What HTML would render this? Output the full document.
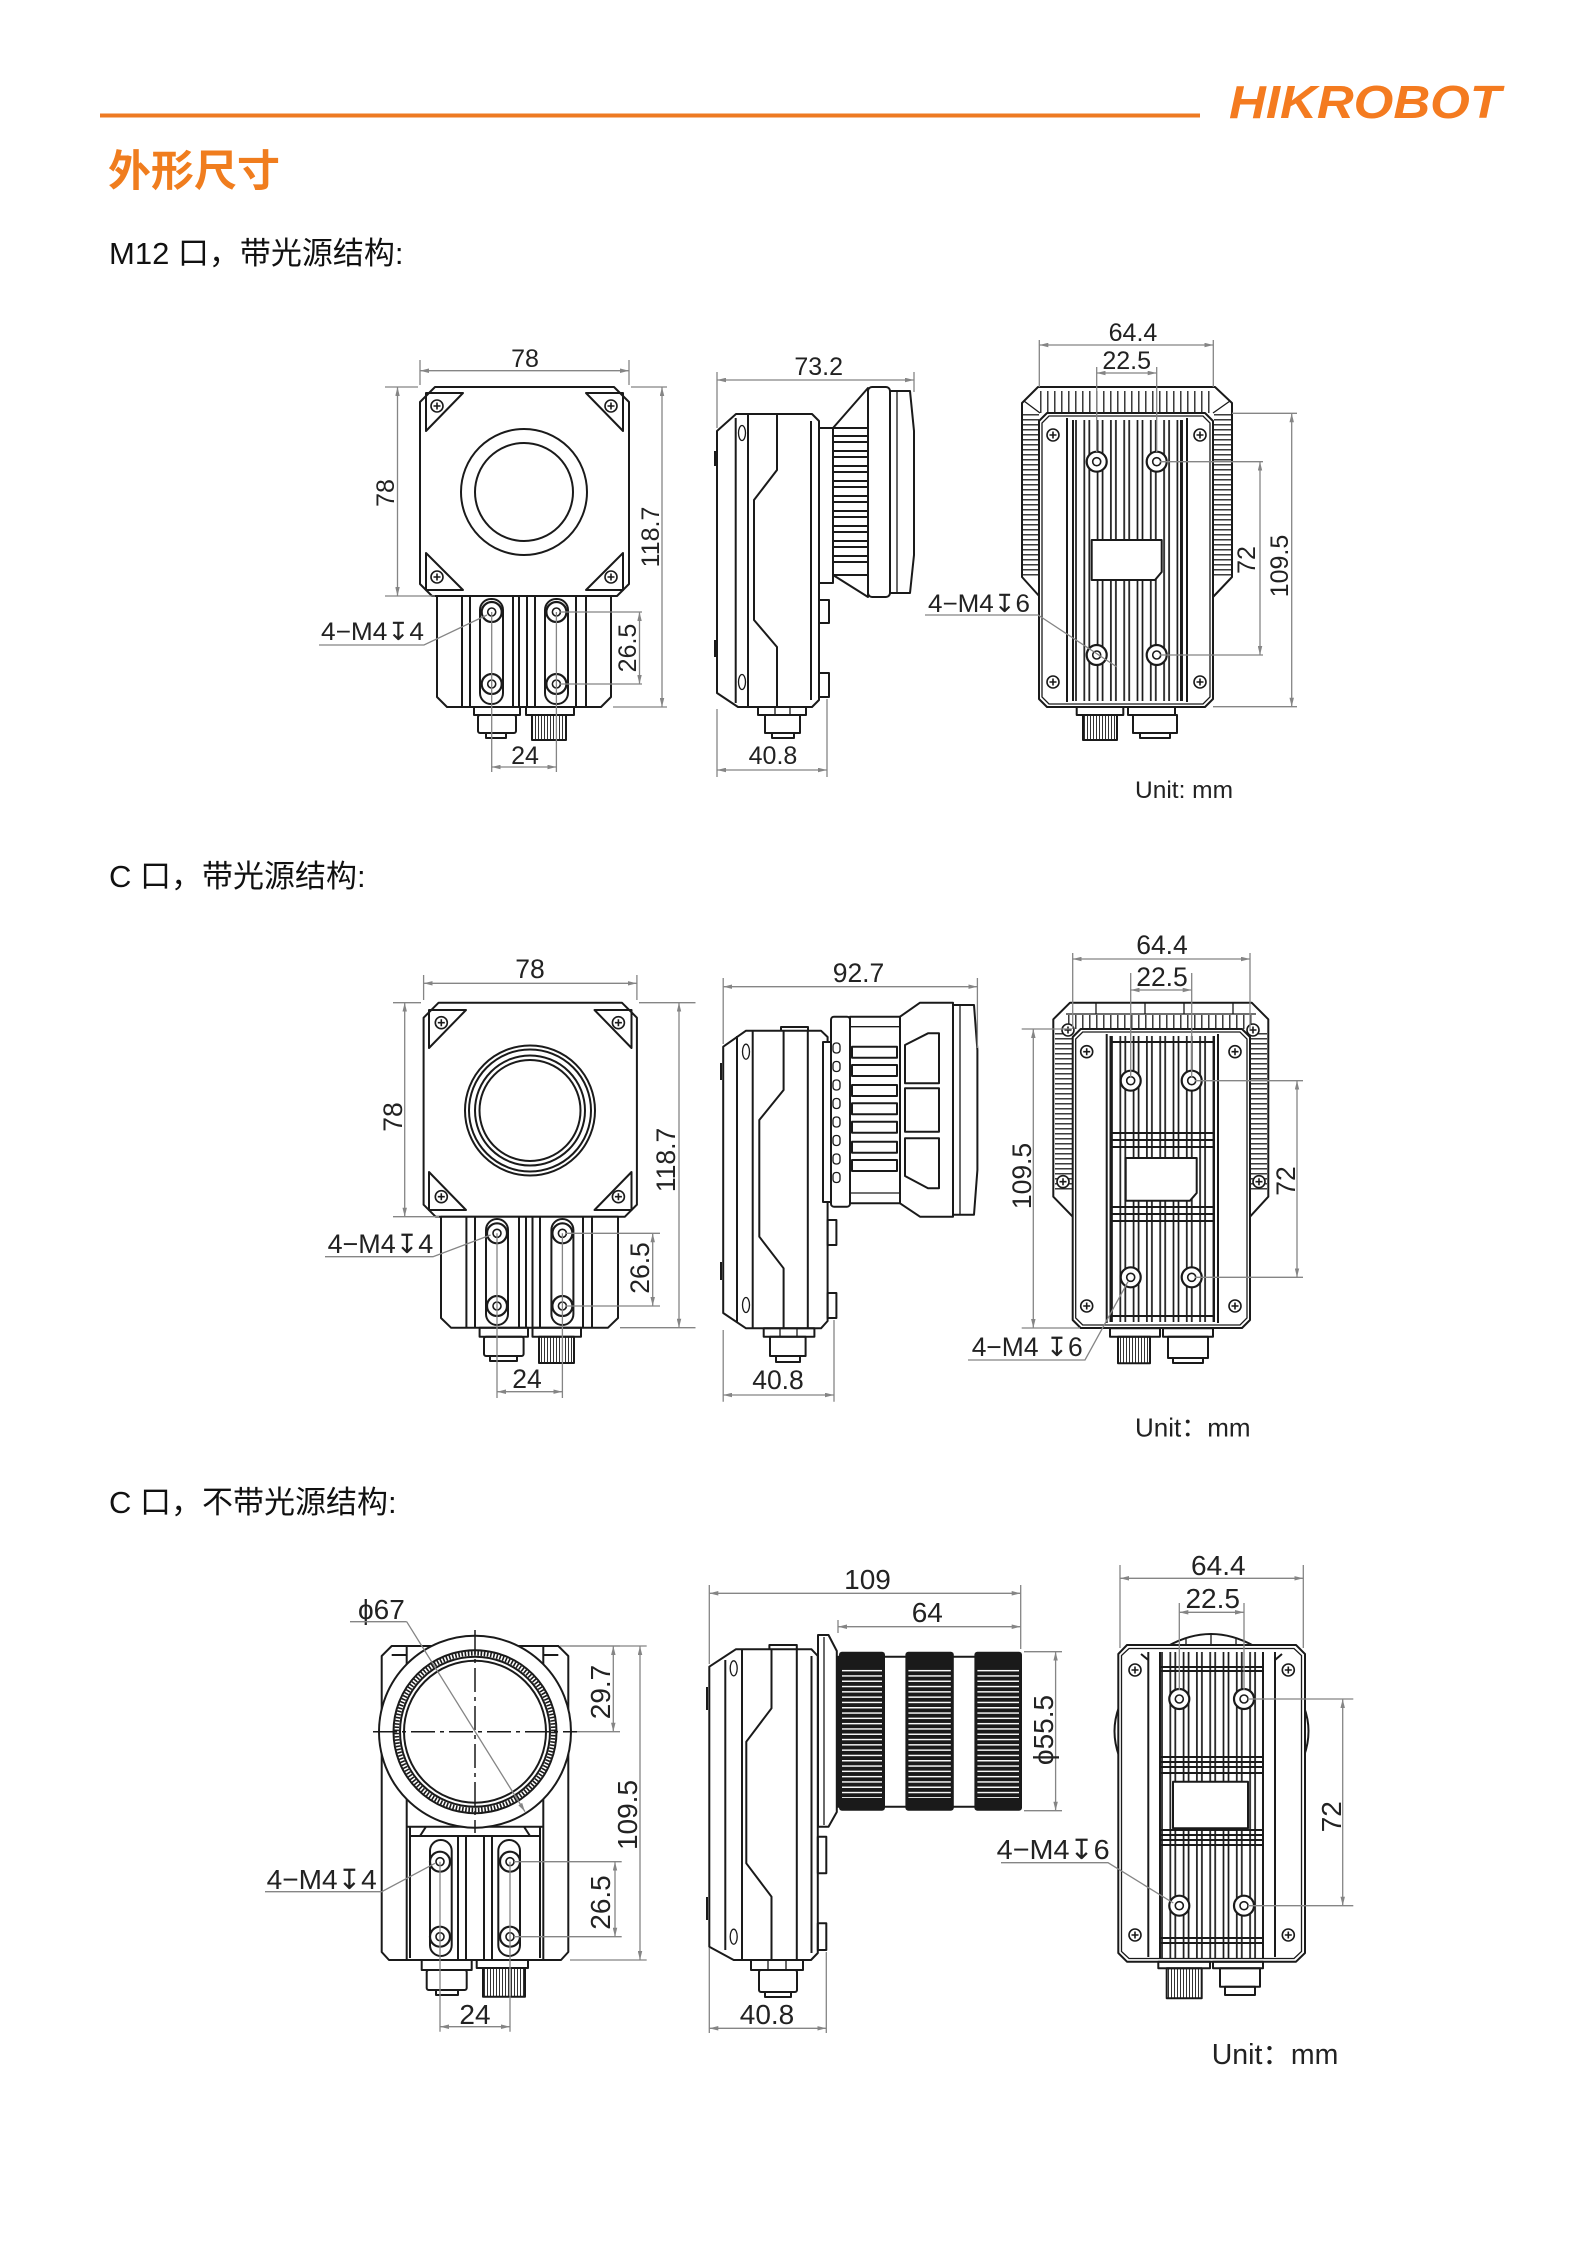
<!DOCTYPE html>
<html><head><meta charset="utf-8">
<style>
html,body{margin:0;padding:0;background:#fff;}
svg{display:block}
.k{fill:none;stroke:#1a1a1a;stroke-width:2;stroke-linejoin:round}
.kw{fill:#fff;stroke:#1a1a1a;stroke-width:2;stroke-linejoin:round}
.t{fill:none;stroke:#1a1a1a;stroke-width:1.3}
.d{fill:none;stroke:#858585;stroke-width:1.3}
.dm{fill:none;stroke:#858585;stroke-width:1.3;marker-start:url(#ar);marker-end:url(#ar)}
.tx{font-family:"Liberation Sans",Arial,sans-serif;fill:#222}
.r1{font-size:25px}.r2{font-size:26.5px}.r3{font-size:28px}
</style></head><body>
<svg width="1588" height="2245" viewBox="0 0 1588 2245" xmlns="http://www.w3.org/2000/svg">
<defs>
<marker id="ar" viewBox="0 0 10 5" refX="10" refY="2.5" markerWidth="9" markerHeight="4.5" markerUnits="userSpaceOnUse" orient="auto-start-reverse"><path d="M0,0L10,2.5L0,5Z" fill="#858585"/></marker>
<marker id="ae" viewBox="0 0 10 5" refX="10" refY="2.5" markerWidth="9" markerHeight="4.5" markerUnits="userSpaceOnUse" orient="auto"><path d="M0,0L10,2.5L0,5Z" fill="#858585"/></marker>
<g id="sc"><circle r="6" fill="#fff" stroke="#1a1a1a" stroke-width="1.6"/><path d="M-3.5,0H3.5M0,-3.5V3.5" stroke="#1a1a1a" stroke-width="1.6"/></g>
<g id="ho"><circle r="10" fill="#fff" stroke="#1a1a1a" stroke-width="2.2"/><circle r="4" fill="none" stroke="#1a1a1a" stroke-width="1.6"/></g>
<pattern id="pv" width="7" height="10" patternUnits="userSpaceOnUse"><path d="M0.8,0V10" stroke="#1a1a1a" stroke-width="1.3"/></pattern>
<pattern id="ph" width="10" height="5" patternUnits="userSpaceOnUse"><path d="M0,0.8H10" stroke="#1a1a1a" stroke-width="1.3"/></pattern>
<pattern id="pf" width="13.3" height="10" patternUnits="userSpaceOnUse"><path d="M1,0V10M9.3,0V10" stroke="#1a1a1a" stroke-width="1.7"/></pattern>
<pattern id="pt" width="3" height="10" patternUnits="userSpaceOnUse"><path d="M1.5,0V10" stroke="#1a1a1a" stroke-width="0.9"/></pattern>
<pattern id="kn" width="10" height="5.3" patternUnits="userSpaceOnUse"><rect width="10" height="5.3" fill="#1a1a1a"/><path d="M0,2.65H10" stroke="#fff" stroke-width="1.4"/></pattern>
</defs>

<!-- HEADER -->
<line x1="100" y1="115.5" x2="1200" y2="115.5" stroke="#EE7A22" stroke-width="4"/>
<text x="1229" y="118" font-family="Liberation Sans, Arial, sans-serif" font-weight="bold" font-style="italic" font-size="46" fill="#F47B20" textLength="272" lengthAdjust="spacingAndGlyphs">HIKROBOT</text>
<text x="108" y="186" font-family="Liberation Sans, 'Noto Sans CJK SC', sans-serif" font-weight="bold" font-size="43" fill="#F07D1E">外形尺寸</text>
<text x="109" y="264" font-family="Liberation Sans, 'Noto Sans CJK SC', sans-serif" font-size="31" fill="#111">M12 口，带光源结构:</text>
<text x="109" y="887" font-family="Liberation Sans, 'Noto Sans CJK SC', sans-serif" font-size="31" fill="#111">C 口，带光源结构:</text>
<text x="109" y="1513" font-family="Liberation Sans, 'Noto Sans CJK SC', sans-serif" font-size="31" fill="#111">C 口，不带光源结构:</text>

<!-- ================= ROW 1 LEFT ================= -->
<path class="kw" d="M435,387H614L629,402V584L617,596H432L420,584V402Z" stroke-width="2.4"/>
<path class="k" d="M426,393H463L426,431Z"/>
<path class="k" d="M623,393H586L623,431Z"/>
<path class="k" d="M426,553V590H463Z"/>
<path class="k" d="M623,553V590H586Z"/>
<use href="#sc" x="437" y="406"/><use href="#sc" x="611" y="406"/><use href="#sc" x="437" y="577"/><use href="#sc" x="611" y="577"/>
<circle class="k" cx="524" cy="492" r="63" stroke-width="2.2"/>
<circle class="k" cx="524" cy="492" r="49" stroke-width="2.2"/>
<path class="kw" d="M437,596V697L447,707H601L611,697V596Z"/>
<path class="k" d="M462,596V707M470,596V707M513,596V707M519,596V707M527,596V707M535,596V707M576,596V707M586,596V707" stroke-width="1.6"/>
<rect class="k" x="480" y="599" width="23" height="105" rx="11"/>
<rect class="k" x="545" y="599" width="23" height="105" rx="11"/>
<use href="#ho" x="491.7" y="612"/><use href="#ho" x="556.4" y="612"/><use href="#ho" x="491.7" y="684"/><use href="#ho" x="556.4" y="684"/>
<rect class="k" x="474" y="707" width="46" height="8"/><rect class="k" x="526" y="707" width="48" height="8"/>
<rect class="k" x="478" y="715" width="38" height="18" rx="2"/><rect class="k" x="486" y="733" width="20" height="5"/>
<rect x="532" y="715" width="34" height="25" fill="url(#pt)"/><rect class="k" x="532" y="715" width="34" height="25"/>
<path class="d" d="M420,360V385M629,360V385"/>
<path class="dm" d="M420,370.7H629"/>
<text class="tx r1" x="525" y="367" text-anchor="middle">78</text>
<path class="d" d="M385,387H418M385,596H435"/>
<path class="dm" d="M397.5,387V596"/>
<text class="tx r1" transform="translate(394,493) rotate(-90)" text-anchor="middle">78</text>
<path class="d" d="M631,387H667M613,707H667"/>
<path class="dm" d="M662,387V707"/>
<text class="tx r1" transform="translate(659,537) rotate(-90)" text-anchor="middle">118.7</text>
<path class="d" d="M560,612H642M560,684H642"/>
<path class="dm" d="M639.5,612V684"/>
<text class="tx r1" transform="translate(636,648) rotate(-90)" text-anchor="middle">26.5</text>
<path class="d" d="M491.7,612V772M556.4,612V772"/>
<path class="dm" d="M491.7,767H556.4"/>
<text class="tx r1" x="525" y="764" text-anchor="middle">24</text>
<text class="tx r1" x="321" y="640" textLength="103" lengthAdjust="spacingAndGlyphs">4−M4↧4</text>
<path class="d" d="M319,645H424L487,615"/>

<!-- ================= ROW 1 MIDDLE ================= -->
<path class="kw" d="M736,414H812L819,421V700L812,707H738L717,693V431Z" stroke-width="2.4"/>
<path class="k" d="M735.7,418V703M748,414V707M777,414V470L754,500V620L777,647V707M811,421V700" stroke-width="1.7"/>
<ellipse class="t" cx="742" cy="433" rx="3.5" ry="7.5"/><ellipse class="t" cx="742" cy="682" rx="3.5" ry="7.5"/>
<path class="k" d="M715,451V466M715,640V657"/>
<rect class="k" x="819" y="600" width="10" height="23"/><rect class="k" x="819" y="673" width="10" height="24"/>
<rect class="k" x="819" y="428" width="14" height="155"/>
<path class="k" d="M833,428L868,388V428Z"/>
<path class="k" d="M833,575L868,597V575Z"/>
<g class="k">
<rect x="833" y="436" width="40" height="6"/><rect x="833" y="451" width="40" height="6"/><rect x="833" y="466" width="40" height="6"/>
<rect x="833" y="481" width="40" height="6"/><rect x="833" y="496" width="40" height="6"/><rect x="833" y="511" width="40" height="6"/>
<rect x="833" y="526" width="40" height="6"/><rect x="833" y="541" width="40" height="6"/><rect x="833" y="556" width="40" height="6"/>
</g>
<rect class="kw" x="868" y="387" width="22" height="210" rx="4" stroke-width="2.2"/>
<path class="kw" d="M890,391H910L914,431V555L910,593H890Z" stroke-width="2.2"/>
<path class="t" d="M897,391V593"/>
<rect class="k" x="758" y="707" width="48" height="8"/><path class="t" d="M775,707V715M790,707V715"/>
<rect class="k" x="765" y="715" width="35" height="18"/><rect class="k" x="772" y="733" width="22" height="5"/>
<path class="d" d="M717,372V428M914,372V392"/>
<path class="dm" d="M717,380H914"/>
<text class="tx r1" x="818.7" y="375" text-anchor="middle">73.2</text>
<path class="d" d="M717,709V777M827,699V777"/>
<path class="dm" d="M717,770H827"/>
<text class="tx r1" x="773" y="764" text-anchor="middle">40.8</text>

<!-- ================= ROW 1 RIGHT ================= -->
<path class="kw" d="M1038,387H1215L1232,403V577L1213,597H1040L1022,577V403Z" stroke-width="2.4"/>
<g transform="translate(1040,391)"><rect width="172" height="22" fill="url(#pv)"/></g>
<g transform="translate(1023,414)"><rect width="16" height="162" fill="url(#ph)"/></g>
<g transform="translate(1214,414)"><rect width="17" height="162" fill="url(#ph)"/></g>
<path class="t" d="M1024,401L1040,413M1230,401L1213,413"/>
<path class="kw" d="M1047,413H1205L1213,421V699L1205,707H1047L1039,699V421Z" stroke-width="2.4"/>
<path class="t" d="M1049,416H1203L1210,423V697L1203,704H1049L1042,697V423Z"/>
<path class="k" d="M1067,418V702M1073,420V701M1181,420V701M1187,418V702" stroke-width="1.6"/>
<g transform="translate(1075,420)"><rect width="108" height="281" fill="url(#pf)"/></g>
<path class="kw" d="M1091.7,540H1161.7V572L1155,580H1091.7Z"/>
<use href="#ho" x="1096.7" y="461.7"/><use href="#ho" x="1156.7" y="461.7"/><use href="#ho" x="1096.7" y="655"/><use href="#ho" x="1156.7" y="655"/>
<use href="#sc" x="1053" y="435"/><use href="#sc" x="1200" y="435"/><use href="#sc" x="1053" y="682"/><use href="#sc" x="1200" y="682"/>
<rect class="k" x="1076.7" y="707" width="46.6" height="8"/><rect class="k" x="1128" y="707" width="47" height="8"/>
<rect x="1083" y="715" width="34" height="25" fill="url(#pt)"/><rect class="k" x="1083" y="715" width="34" height="25"/>
<rect class="k" x="1133" y="715" width="44" height="18"/><rect class="k" x="1140" y="733" width="30" height="5"/>
<path class="d" d="M1039.3,340V387M1213.3,340V387"/>
<path class="dm" d="M1039.3,345H1213.3"/>
<text class="tx r1" x="1133" y="341" text-anchor="middle">64.4</text>
<path class="d" d="M1096.7,367V452M1156.7,367V452"/>
<path class="dm" d="M1096.7,373H1156.7"/>
<text class="tx r1" x="1126.7" y="369" text-anchor="middle">22.5</text>
<path class="d" d="M1160,461.7H1263M1160,655H1263"/>
<path class="dm" d="M1260,461.7V655"/>
<text class="tx r1" transform="translate(1255,560) rotate(-90)" text-anchor="middle">72</text>
<path class="d" d="M1232,413.3H1297M1213,706.7H1297"/>
<path class="dm" d="M1291.7,413.3V706.7"/>
<text class="tx r1" transform="translate(1288,566) rotate(-90)" text-anchor="middle">109.5</text>
<text class="tx r1" x="928" y="612" textLength="102" lengthAdjust="spacingAndGlyphs">4−M4↧6</text>
<path class="d" d="M925,615H1038L1117,667"/>
<text class="tx" x="1135" y="798" font-size="24.5">Unit: mm</text>

<!-- ================= ROW 2 LEFT ================= -->
<path class="kw" d="M438.6,1002.7H621.9L636.9,1017.7V1204.7L624.9,1216.7H435.6L423.6,1204.7V1017.7Z" stroke-width="2.4"/>
<path class="k" d="M429,1010H466L429,1048Z"/>
<path class="k" d="M631.5,1010H594.5L631.5,1048Z"/>
<path class="k" d="M429,1172V1210H466Z"/>
<path class="k" d="M631.5,1172V1210H594.5Z"/>
<use href="#sc" x="441.3" y="1022.7"/><use href="#sc" x="618.4" y="1022.7"/><use href="#sc" x="441.3" y="1196.7"/><use href="#sc" x="618.4" y="1196.7"/>
<circle class="k" cx="530" cy="1110.5" r="65" stroke-width="2.2"/>
<circle class="k" cx="530" cy="1110.5" r="61" stroke-width="1.5"/>
<circle class="k" cx="530" cy="1110.5" r="55" stroke-width="2.4"/>
<circle class="k" cx="530" cy="1110.5" r="50.5" stroke-width="2"/>
<path class="kw" d="M441,1216.7V1318L451,1327.7H608L618,1318V1216.7Z"/>
<path class="k" d="M466.4,1216.7V1327.7M475,1216.7V1327.7M519,1216.7V1327.7M526,1216.7V1327.7M532.5,1216.7V1327.7M540,1216.7V1327.7M583,1216.7V1327.7M592,1216.7V1327.7" stroke-width="1.6"/>
<rect class="k" x="486" y="1219" width="22" height="106" rx="11"/>
<rect class="k" x="551.4" y="1219" width="22" height="106" rx="11"/>
<use href="#ho" x="497" y="1233.3"/><use href="#ho" x="562.4" y="1233.3"/><use href="#ho" x="497" y="1306"/><use href="#ho" x="562.4" y="1306"/>
<rect class="k" x="479.6" y="1327.7" width="48.4" height="9"/><rect class="k" x="532.5" y="1327.7" width="48.5" height="9"/>
<rect class="k" x="484" y="1336.7" width="39.6" height="19.3" rx="2"/><rect class="k" x="490" y="1356" width="27" height="5"/>
<rect x="539" y="1336.7" width="35" height="26.3" fill="url(#pt)"/><rect class="k" x="539" y="1336.7" width="35" height="26.3"/>
<path class="d" d="M423.6,975V1000M636.9,975V1000"/>
<path class="dm" d="M423.6,983.3H636.9"/>
<text class="tx r2" x="530" y="978" text-anchor="middle">78</text>
<path class="d" d="M393,1002.7H421M393,1216.7H439"/>
<path class="dm" d="M404.7,1002.7V1216.7"/>
<text class="tx r2" transform="translate(402,1117) rotate(-90)" text-anchor="middle">78</text>
<path class="d" d="M639,1002.7H695.5M620,1327.7H695.5"/>
<path class="dm" d="M679,1002.7V1327.7"/>
<text class="tx r2" transform="translate(675,1160) rotate(-90)" text-anchor="middle">118.7</text>
<path class="d" d="M566,1233.3H660M566,1306H660"/>
<path class="dm" d="M652.7,1233.3V1306"/>
<text class="tx r2" transform="translate(649,1268) rotate(-90)" text-anchor="middle">26.5</text>
<path class="d" d="M497,1233.3V1398M562.4,1233.3V1398"/>
<path class="dm" d="M497,1391.7H562.4"/>
<text class="tx r2" x="527" y="1388" text-anchor="middle">24</text>
<text class="tx r2" x="327.6" y="1253" textLength="105.7" lengthAdjust="spacingAndGlyphs">4−M4↧4</text>
<path class="d" d="M325,1256.7H433L490.6,1235"/>

<!-- ================= ROW 2 MIDDLE ================= -->
<path class="kw" d="M746,1030.7H821L827.6,1037V1321L821,1328.3H746L723.2,1313V1046.7Z" stroke-width="2.4"/>
<path class="k" d="M781,1030.7V1027H808V1030.7"/>
<path class="k" d="M737,1036V1322M752.7,1031V1328M783.6,1030.7V1090L759.3,1120V1236.7L783.6,1268.3V1328M807.8,1030.7V1328" stroke-width="1.7"/>
<ellipse class="t" cx="746" cy="1051.7" rx="3.5" ry="7.5"/><ellipse class="t" cx="746" cy="1305" rx="3.5" ry="7.5"/>
<path class="k" d="M721,1063V1080M721,1262V1280"/>
<rect class="k" x="827.6" y="1220" width="8.8" height="25"/><rect class="k" x="827.6" y="1293" width="8.8" height="25"/>
<rect class="kw" x="823" y="1042" width="8" height="160"/>
<rect class="kw" x="831" y="1016.7" width="19" height="190" rx="3"/>
<g class="t">
<rect x="833" y="1043" width="7" height="10" rx="3"/><rect x="833" y="1061.5" width="7" height="10" rx="3"/><rect x="833" y="1080" width="7" height="10" rx="3"/><rect x="833" y="1098.5" width="7" height="10" rx="3"/>
<rect x="833" y="1117" width="7" height="10" rx="3"/><rect x="833" y="1135.5" width="7" height="10" rx="3"/><rect x="833" y="1154" width="7" height="10" rx="3"/><rect x="833" y="1172.5" width="7" height="10" rx="3"/>
</g>
<rect class="kw" x="850" y="1016.7" width="50" height="186.6"/>
<path class="t" d="M850,1026.7H900M850,1193H900"/>
<g class="k">
<rect x="852" y="1046.7" width="45" height="11"/><rect x="852" y="1065" width="45" height="11"/><rect x="852" y="1085" width="45" height="11"/>
<rect x="852" y="1103.3" width="45" height="11"/><rect x="852" y="1121.7" width="45" height="11"/><rect x="852" y="1141.7" width="45" height="11"/>
<rect x="852" y="1160" width="45" height="11"/>
</g>
<path class="kw" d="M900,1016.7L920,1002.7H953V1216.7H920L900,1203.3Z" stroke-width="2.2"/>
<g class="k"><path d="M905,1045L928,1033.3H939V1083.3H905Z"/><rect x="905" y="1088.3" width="34" height="43.4"/><path d="M905,1138.3H939V1188.3H928L905,1176Z"/></g>
<path class="kw" d="M953,1005H974L977.4,1050V1170L974,1214.7H953Z" stroke-width="2.2"/>
<path class="t" d="M960,1005V1214.7"/>
<rect class="k" x="763.7" y="1328.3" width="50.7" height="8.4"/><path class="t" d="M780,1328.3V1336.7M797,1328.3V1336.7"/>
<rect class="k" x="770" y="1336.7" width="35.6" height="19.3"/><rect class="k" x="776" y="1356" width="24" height="6"/>
<path class="d" d="M723.2,978V1044M977.4,978V1048"/>
<path class="dm" d="M723.2,986.7H977.4"/>
<text class="tx r2" x="858.5" y="982" text-anchor="middle">92.7</text>
<path class="d" d="M723.2,1330V1401.7M834,1320V1401.7"/>
<path class="dm" d="M723.2,1395H834"/>
<text class="tx r2" x="778" y="1389" text-anchor="middle">40.8</text>

<!-- ================= ROW 2 RIGHT ================= -->
<path class="kw" d="M1070,1002.7H1251.7L1268.3,1019.3V1196.7L1250,1216.7H1072.7L1053.3,1196.7V1019.3Z" stroke-width="2.4"/>
<path class="t" d="M1066,1014H1256M1096,1003V1014M1145,1003V1014M1184,1003V1014M1233,1003V1014"/>
<g transform="translate(1068,1015)"><rect width="187" height="14" fill="url(#pv)"/></g>
<g transform="translate(1055,1033)"><rect width="17" height="160" fill="url(#ph)"/></g>
<g transform="translate(1251,1033)"><rect width="16" height="160" fill="url(#ph)"/></g>
<path class="kw" d="M1080.7,1029H1242L1250,1037V1320L1242,1328H1080.7L1072.7,1320V1037Z" stroke-width="2.4"/>
<path class="t" d="M1082.7,1032H1240L1247,1039V1318L1240,1325H1082.7L1075.7,1318V1039Z"/>
<path class="k" d="M1106.7,1034V1323M1110.5,1036V1322M1214,1036V1322M1218,1034V1323" stroke-width="1.6"/>
<g transform="translate(1111,1036)"><rect width="103" height="286" fill="url(#pf)"/></g>
<path class="k" d="M1110.5,1042H1214M1110.5,1133H1214M1110.5,1140H1214M1110.5,1147H1214M1110.5,1207H1214M1110.5,1214H1214M1110.5,1221H1214M1110.5,1316H1214" stroke-width="1.4"/>
<path class="kw" d="M1125.7,1158H1196.7V1193L1190,1200.7H1125.7Z"/>
<use href="#ho" x="1130.7" y="1080.7"/><use href="#ho" x="1191.7" y="1080.7"/><use href="#ho" x="1130.7" y="1277.3"/><use href="#ho" x="1191.7" y="1277.3"/>
<use href="#sc" x="1086.7" y="1051.7"/><use href="#sc" x="1235" y="1051.7"/><use href="#sc" x="1086.7" y="1306"/><use href="#sc" x="1235" y="1306"/>
<use href="#sc" x="1068" y="1030"/><use href="#sc" x="1253" y="1030"/><use href="#sc" x="1063" y="1181.7"/><use href="#sc" x="1259" y="1181.7"/>
<rect class="k" x="1110" y="1328.3" width="50" height="8.4"/><rect class="k" x="1163" y="1328.3" width="50" height="8.4"/>
<rect x="1118" y="1336.7" width="32" height="26.6" fill="url(#pt)"/><rect class="k" x="1118" y="1336.7" width="32" height="26.6"/>
<rect class="k" x="1168" y="1336.7" width="40" height="21.3"/><rect class="k" x="1173" y="1358" width="30" height="5"/>
<path class="d" d="M1072.7,953V1029M1250,953V1029"/>
<path class="dm" d="M1072.7,959H1250"/>
<text class="tx r2" x="1162" y="954" text-anchor="middle">64.4</text>
<path class="d" d="M1130.7,973V1078M1191.7,973V1078"/>
<path class="dm" d="M1130.7,990H1191.7"/>
<text class="tx r2" x="1162" y="986" text-anchor="middle">22.5</text>
<path class="d" d="M1021.7,1029H1072M1021.7,1328H1080"/>
<path class="dm" d="M1033.3,1029V1328"/>
<text class="tx r2" transform="translate(1031,1176) rotate(-90)" text-anchor="middle">109.5</text>
<path class="d" d="M1195,1080.7H1303M1195,1277.3H1303"/>
<path class="dm" d="M1297,1080.7V1277.3"/>
<text class="tx r2" transform="translate(1295,1181) rotate(-90)" text-anchor="middle">72</text>
<text class="tx r2" x="971.7" y="1356" textLength="111" lengthAdjust="spacingAndGlyphs">4−M4 ↧6</text>
<path class="d" d="M968,1360H1085L1128,1281.7"/>
<text class="tx" x="1135" y="1436.7" font-size="26" font-family="Liberation Sans, 'Noto Sans CJK SC', sans-serif">Unit：mm</text>

<!-- ================= ROW 3 LEFT ================= -->
<path class="kw" d="M391.7,1646H558.3L568.3,1656V1952L561,1960H389L381.7,1952V1656Z" stroke-width="2.4"/>
<path class="k" d="M406.7,1646V1960M543.3,1646V1960M391.7,1655H406.7M543.3,1655H558.3" stroke-width="1.7"/>
<path class="k" d="M406.7,1826.7H543.3M410,1826.7V1958M540,1826.7V1958M458,1836V1960M466,1836V1960M484,1836V1960M492,1836V1960" stroke-width="1.6"/>
<path class="k" d="M420,1836L426,1826.7M530,1836L524,1826.7M410,1836H540" stroke-width="1.4"/>
<rect class="k" x="430" y="1840" width="21.7" height="116" rx="10.8"/>
<rect class="k" x="498.3" y="1840" width="21.7" height="116" rx="10.8"/>
<circle class="kw" cx="475" cy="1731.7" r="96" stroke-width="2.4"/>
<circle class="k" cx="475" cy="1731.7" r="81.5" stroke-width="1.8"/>
<circle cx="475" cy="1731.7" r="78.3" fill="none" stroke="#1a1a1a" stroke-width="4.5" stroke-dasharray="1.6 1.6"/>
<circle class="k" cx="475" cy="1731.7" r="75" stroke-width="1.2"/>
<circle class="k" cx="475" cy="1731.7" r="71" stroke-width="2.2"/>
<path d="M373,1731.7H577M475,1630V1833" stroke="#1a1a1a" stroke-width="1.5" stroke-dasharray="24 5 4 5" fill="none"/>
<use href="#ho" x="440" y="1861.7"/><use href="#ho" x="510" y="1861.7"/><use href="#ho" x="440" y="1936.7"/><use href="#ho" x="510" y="1936.7"/>
<rect class="k" x="421.7" y="1960" width="50" height="10"/><rect class="k" x="476.7" y="1960" width="51.3" height="8"/>
<rect class="k" x="426.7" y="1970" width="40" height="20" rx="2"/><rect class="k" x="436" y="1990" width="22" height="5"/>
<rect x="483" y="1968" width="42" height="28.7" fill="url(#pt)"/><rect class="k" x="483" y="1968" width="42" height="28.7"/>
<text class="tx r3" x="358" y="1619" font-family="Liberation Sans, DejaVu Sans, sans-serif">ϕ67</text>
<path class="d" d="M350,1621.7H406.7"/>
<path class="d" d="M406.7,1621.7L525,1811.7" marker-end="url(#ae)"/>
<path class="d" d="M560,1646H620M577,1731.7H620"/>
<path class="dm" d="M613.3,1646V1731.7"/>
<text class="tx r3" transform="translate(610,1692) rotate(-90)" text-anchor="middle">29.7</text>
<path class="d" d="M570,1646H646.7M570,1960H646.7"/>
<path class="dm" d="M640,1646V1960"/>
<text class="tx r3" transform="translate(637,1815) rotate(-90)" text-anchor="middle">109.5</text>
<path class="d" d="M514,1861.7H621.7M514,1936.7H621.7"/>
<path class="dm" d="M615,1861.7V1936.7"/>
<text class="tx r3" transform="translate(610,1902.5) rotate(-90)" text-anchor="middle">26.5</text>
<path class="d" d="M440,1861.7V2031.7M510,1861.7V2031.7"/>
<path class="dm" d="M440,2026.7H510"/>
<text class="tx r3" x="475" y="2024" text-anchor="middle">24</text>
<text class="tx r3" x="266.7" y="1889" textLength="110" lengthAdjust="spacingAndGlyphs">4−M4↧4</text>
<path class="d" d="M265,1891.7H381.7L435,1863.3"/>

<!-- ================= ROW 3 MIDDLE ================= -->
<path class="kw" d="M735.8,1649.3H811.5L817.8,1656V1953L811,1960H733.7L709.3,1946.7V1666.7Z" stroke-width="2.4"/>
<path class="k" d="M769.4,1649V1645H796.8V1649"/>
<path class="k" d="M725.3,1660V1950M742,1649.3V1960M771.5,1649.3V1708.3L746.3,1741.7V1863.3L771.5,1896.7V1960M796.8,1649.3V1960M811.5,1656V1953" stroke-width="1.7"/>
<ellipse class="t" cx="733.7" cy="1668.3" rx="3.5" ry="7.5"/><ellipse class="t" cx="733.7" cy="1936.7" rx="3.5" ry="7.5"/>
<path class="k" d="M707,1687V1710M707,1897V1920"/>
<path class="kw" d="M818,1635H828.5L836.8,1651V1812L828.5,1826.7H818Z"/>
<path class="t" d="M824,1637V1825"/>
<rect class="k" x="817.8" y="1836.7" width="8.5" height="36.6"/><rect class="k" x="817.8" y="1923.3" width="8.5" height="26.7"/>
<rect class="kw" x="838" y="1656.7" width="183" height="150"/>
<rect x="839" y="1651.7" width="46" height="159" rx="3" fill="#1a1a1a"/>
<rect x="905.4" y="1651.7" width="48.4" height="159" rx="3" fill="#1a1a1a"/>
<rect x="974.4" y="1651.7" width="47.6" height="159" rx="3" fill="#1a1a1a"/>
<g transform="translate(842,1668)"><rect width="40" height="130" fill="url(#kn)"/></g>
<g transform="translate(908.4,1668)"><rect width="42.4" height="130" fill="url(#kn)"/></g>
<g transform="translate(977.4,1668)"><rect width="41.6" height="130" fill="url(#kn)"/></g>
<rect class="k" x="751" y="1960" width="52" height="10"/><path class="t" d="M768,1960V1970M786,1960V1970"/>
<rect class="k" x="759" y="1970" width="38" height="22" rx="2"/><rect class="k" x="765" y="1992" width="26" height="5"/>
<path class="d" d="M709.3,1585V1664M1020.7,1585V1649"/>
<path class="dm" d="M709.3,1593.3H1020.7"/>
<text class="tx r3" x="867.5" y="1589" text-anchor="middle">109</text>
<path class="d" d="M838,1620V1633"/>
<path class="dm" d="M838,1626.7H1020.7"/>
<text class="tx r3" x="927.3" y="1622" text-anchor="middle">64</text>
<path class="d" d="M1024,1651.7H1062M1024,1810.7H1062"/>
<path class="dm" d="M1055.6,1651.7V1810.7"/>
<text class="tx r3" transform="translate(1053,1730) rotate(-90)" text-anchor="middle" font-family="Liberation Sans, DejaVu Sans, sans-serif">ϕ55.5</text>
<path class="d" d="M709.3,1948V2033M826.3,1952V2033"/>
<path class="dm" d="M709.3,2028.3H826.3"/>
<text class="tx r3" x="767" y="2024" text-anchor="middle">40.8</text>

<!-- ================= ROW 3 RIGHT ================= -->
<path class="k" d="M1168,1646Q1211,1622 1254,1646"/>
<path class="t" d="M1186,1639V1645M1211,1635V1645M1236,1639V1645"/>
<path class="k" d="M1119,1707Q1110,1731 1119,1756"/>
<path class="k" d="M1304,1707Q1313,1731 1304,1756"/>
<path class="kw" d="M1127,1645H1296L1305,1654V1953L1296,1961.7H1127L1118.3,1953V1654Z" stroke-width="2.4"/>
<path class="t" d="M1129,1648.5H1294L1301.5,1655.5V1951.5L1294,1958.5H1129L1121.5,1951.5V1655.5Z"/>
<path class="k" d="M1148.3,1652V1957M1160,1652V1959M1263,1652V1959M1275,1652V1957M1141,1654L1148.3,1660M1282,1654L1275,1660" stroke-width="1.6"/>
<g transform="translate(1161,1652)"><rect width="102" height="307" fill="url(#pf)"/></g>
<path class="k" d="M1160,1667H1263M1160,1671H1263M1160,1757H1263M1160,1762H1263M1160,1767H1263M1160,1773H1263M1160,1830H1263M1160,1835H1263M1160,1840H1263M1160,1845H1263M1160,1938H1263M1160,1943H1263" stroke-width="1.3"/>
<rect class="kw" x="1173" y="1781.7" width="75" height="46.6"/>
<use href="#ho" x="1179.3" y="1699"/><use href="#ho" x="1244" y="1699"/><use href="#ho" x="1179.3" y="1905.7"/><use href="#ho" x="1244" y="1905.7"/>
<use href="#sc" x="1135" y="1670"/><use href="#sc" x="1288.3" y="1670"/><use href="#sc" x="1135" y="1935"/><use href="#sc" x="1288.3" y="1935"/>
<rect class="k" x="1158.3" y="1961.7" width="51.7" height="6.6"/><rect class="k" x="1213" y="1961.7" width="50" height="6.6"/>
<rect x="1166.7" y="1968.3" width="35" height="30" fill="url(#pt)"/><rect class="k" x="1166.7" y="1968.3" width="35" height="30"/>
<rect class="k" x="1220" y="1968.3" width="40" height="18.4"/><rect class="k" x="1225" y="1986.7" width="30" height="8.3"/>
<path class="d" d="M1120,1565V1648M1303.3,1565V1648"/>
<path class="dm" d="M1120,1578.3H1303.3"/>
<text class="tx r3" x="1218.3" y="1575" text-anchor="middle">64.4</text>
<path class="d" d="M1179.3,1603V1690M1244,1603V1690"/>
<path class="dm" d="M1179.3,1612.3H1244"/>
<text class="tx r3" x="1212.7" y="1608" text-anchor="middle">22.5</text>
<path class="d" d="M1248,1699H1353.3M1248,1905.7H1353.3"/>
<path class="dm" d="M1342.7,1699V1905.7"/>
<text class="tx r3" transform="translate(1341,1816.7) rotate(-90)" text-anchor="middle">72</text>
<text class="tx r3" x="996.7" y="1859" textLength="113" lengthAdjust="spacingAndGlyphs">4−M4↧6</text>
<path class="d" d="M1001,1862.7H1108L1173.3,1903"/>
<text class="tx" x="1211.7" y="2064" font-size="28.5" font-family="Liberation Sans, 'Noto Sans CJK SC', sans-serif">Unit：mm</text>
</svg>
</body></html>
